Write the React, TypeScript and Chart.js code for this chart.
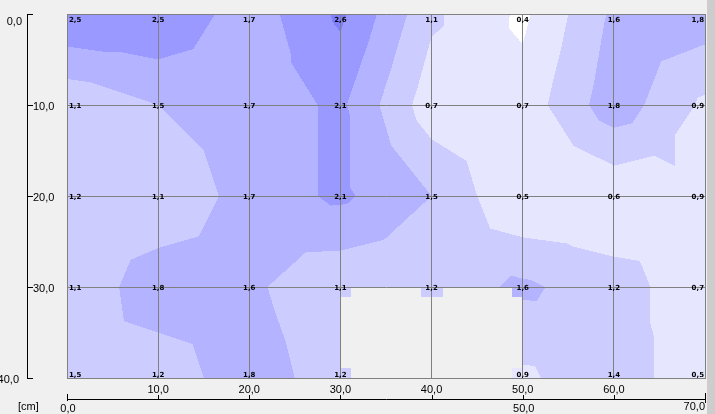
import React, { useEffect, useRef } from "react";
import { Chart, registerables } from "chart.js";

Chart.register(...registerables);

// ---- data ----
const xPositions = [0, 10, 20, 30, 40, 50, 60, 70];
const depths = [0, 10, 20, 30, 40];
const row0 = [2.5, 2.5, 1.7, 2.6, 1.1, 0.4, 1.6, 1.8];
const row10 = [1.1, 1.5, 1.7, 2.1, 0.7, 0.7, 1.8, 0.9];
const row20 = [1.2, 1.1, 1.7, 2.1, 1.5, 0.5, 0.6, 0.9];
const row30 = [1.1, 1.8, 1.6, 1.1, 1.2, 1.6, 1.2, 0.7];
const row40 = [1.5, 1.2, 1.8, 1.2, null, 0.9, 1.4, 0.5];
const levels = [0.5, 1.0, 1.5, 2.0, 2.5];
const bandColors = ["#FFFFFF", "#E6E6FF", "#CCCCFF", "#B3B3FF", "#9999FF", "#8080FF"];
const leftTickLabels = ["0,0", "10,0", "20,0", "30,0", "40,0"];
const bottomUpperLabels = [10, 20, 30, 40, 50, 60];
const bottomLowerLabels = [0, 50, 70];
const unitLabel = "[cm]";

const grid: (number | null)[][] = [row0, row10, row20, row30, row40];

const fmt = (v: number) => v.toFixed(1).replace(".", ",");

function bandOf(v: number) {
  let b = 0;
  for (const L of levels) if (v > L + 1e-9) b++;
  return b;
}

function hexToRgb(h: string) {
  return [parseInt(h.slice(1, 3), 16), parseInt(h.slice(3, 5), 16), parseInt(h.slice(5, 7), 16)];
}
const bandRgb = bandColors.map(hexToRgb);

function bary(px: number, py: number, x1: number, y1: number, f1: number, x2: number, y2: number, f2: number, x3: number, y3: number, f3: number) {
  const det = (y2 - y3) * (x1 - x3) + (x3 - x2) * (y1 - y3);
  const l1 = ((y2 - y3) * (px - x3) + (x3 - x2) * (py - y3)) / det;
  const l2 = ((y3 - y1) * (px - x3) + (x1 - x3) * (py - y3)) / det;
  const l3 = 1 - l1 - l2;
  return l1 * f1 + l2 * f2 + l3 * f3;
}

function interp(x: number, y: number): number | null {
  let c = 0;
  while (c < xPositions.length - 2 && x > xPositions[c + 1]) c++;
  let r = 0;
  while (r < depths.length - 2 && y > depths[r + 1]) r++;
  const a = grid[r][c], b = grid[r][c + 1], cc = grid[r + 1][c + 1], d = grid[r + 1][c];
  if (a == null || b == null || cc == null || d == null) return null;
  const u = (x - xPositions[c]) / (xPositions[c + 1] - xPositions[c]);
  const v = (y - depths[r]) / (depths[r + 1] - depths[r]);
  const m = (a + b + cc + d) / 4;
  if (v <= u && v <= 1 - u) return bary(u, v, 0, 0, a, 1, 0, b, 0.5, 0.5, m);
  if (u >= v && u >= 1 - v) return bary(u, v, 1, 0, b, 1, 1, cc, 0.5, 0.5, m);
  if (v >= u && v >= 1 - u) return bary(u, v, 1, 1, cc, 0, 1, d, 0.5, 0.5, m);
  return bary(u, v, 0, 1, d, 0, 0, a, 0.5, 0.5, m);
}

const contourPlugin = {
  id: "contour",
  beforeDatasetsDraw(chart: any) {
    const { ctx, chartArea } = chart;
    const xs = chart.scales.x, ys = chart.scales.y;
    const left = Math.round(chartArea.left), top = Math.round(chartArea.top);
    const w = Math.round(chartArea.right) - left, h = Math.round(chartArea.bottom) - top;
    ctx.save();
    ctx.beginPath();
    ctx.rect(left, top, w, h);
    ctx.clip();
    // point cells
    depths.forEach((dv, r) =>
      xPositions.forEach((xv, c) => {
        const v = grid[r][c];
        if (v == null) return;
        const px = Math.round(xs.getPixelForValue(xv));
        const py = Math.round(ys.getPixelForValue(dv));
        ctx.fillStyle = bandColors[bandOf(v)];
        ctx.fillRect(px - 11, py - 10, 22, 20);
      })
    );
    const img = ctx.createImageData(w, h);
    const data = img.data;
    const xv: number[] = [];
    for (let i = 0; i < w; i++) xv.push(xs.getValueForPixel(left + i + 0.5));
    for (let j = 0; j < h; j++) {
      const yv = ys.getValueForPixel(top + j + 0.5);
      for (let i = 0; i < w; i++) {
        const val = interp(xv[i], yv);
        if (val == null) continue;
        const rgb = bandRgb[bandOf(val)];
        const k = (j * w + i) * 4;
        data[k] = rgb[0];
        data[k + 1] = rgb[1];
        data[k + 2] = rgb[2];
        data[k + 3] = 255;
      }
    }
    const off = document.createElement("canvas");
    off.width = w;
    off.height = h;
    (off.getContext("2d") as CanvasRenderingContext2D).putImageData(img, 0, 0);
    ctx.drawImage(off, left, top);
    ctx.restore();
  },
  afterDraw(chart: any) {
    const { ctx, chartArea } = chart;
    const xs = chart.scales.x, ys = chart.scales.y;
    ctx.save();
    // value labels
    ctx.font = 'bold 7px "DejaVu Sans"';
    ctx.fillStyle = "#000";
    ctx.textAlign = "left";
    ctx.textBaseline = "alphabetic";
    depths.forEach((dv, r) =>
      xPositions.forEach((xv, c) => {
        const v = grid[r][c];
        if (v == null) return;
        const t = fmt(v);
        const tw = ctx.measureText(t).width;
        const px = xs.getPixelForValue(xv);
        const py = ys.getPixelForValue(dv);
        let x0 = px - tw / 2;
        if (x0 < chartArea.left + 2) x0 = chartArea.left + 2;
        if (x0 + tw > chartArea.right - 1) x0 = chartArea.right - 1 - tw;
        let by = py + 3;
        if (by < chartArea.top + 8) by = chartArea.top + 8;
        if (by > chartArea.bottom - 1) by = chartArea.bottom - 1;
        ctx.fillText(t, x0, by);
      })
    );

    // left axis
    ctx.strokeStyle = "#000";
    ctx.lineWidth = 1;
    const yTop = Math.round(ys.getPixelForValue(depths[0]));
    const yBot = Math.round(ys.getPixelForValue(depths[depths.length - 1]));
    ctx.beginPath();
    ctx.moveTo(27.5, yTop);
    ctx.lineTo(27.5, yBot + 1);
    depths.forEach((dv) => {
      const py = Math.round(ys.getPixelForValue(dv)) + 0.5;
      ctx.moveTo(27, py);
      ctx.lineTo(33, py);
    });
    ctx.stroke();

    ctx.font = '11px "Liberation Sans"';
    depths.forEach((dv, i) => {
      const py = Math.round(ys.getPixelForValue(dv));
      const label = leftTickLabels[i];
      if (i === 0) {
        ctx.textAlign = "right";
        ctx.fillText(label, 22, py + 11);
      } else if (i === depths.length - 1) {
        ctx.textAlign = "right";
        ctx.fillText(label, 19, py + 5);
      } else {
        ctx.textAlign = "left";
        ctx.fillText(label, 33, py + 5);
      }
    });

    // bottom axis
    const lineY = 399.5;
    const xStart = Math.round(xs.getPixelForValue(xPositions[0])) + 0.5;
    const xEnd = Math.round(xs.getPixelForValue(xPositions[xPositions.length - 1])) + 0.5;
    ctx.beginPath();
    ctx.moveTo(xStart, lineY);
    ctx.lineTo(xEnd + 0.5, lineY);
    xPositions.forEach((xv, i) => {
      const px = Math.round(xs.getPixelForValue(xv)) + 0.5;
      if (i === 0) {
        ctx.moveTo(px, 394);
        ctx.lineTo(px, 401);
      } else if (i === xPositions.length - 1) {
        ctx.moveTo(px, 393);
        ctx.lineTo(px, 403);
      } else {
        ctx.moveTo(px, 395);
        ctx.lineTo(px, 399);
      }
    });
    ctx.stroke();

    ctx.textAlign = "center";
    bottomUpperLabels.forEach((xv) => {
      const px = xs.getPixelForValue(xv);
      ctx.fillText(fmt(xv), px, 393);
    });
    bottomLowerLabels.forEach((xv, i) => {
      const px = xs.getPixelForValue(xv);
      if (i === bottomLowerLabels.length - 1) {
        ctx.textAlign = "right";
        ctx.fillText(fmt(xv), px, 410);
      } else {
        ctx.textAlign = "center";
        ctx.fillText(fmt(xv), px + 1, 412);
      }
    });
    ctx.textAlign = "left";
    ctx.fillText(unitLabel, 18, 410);
    ctx.restore();
  },
};

export default function App() {
  const ref = useRef<HTMLCanvasElement>(null);
  useEffect(() => {
    document.body.style.margin = "0";
    const pts: { x: number; y: number }[] = [];
    depths.forEach((dv, r) =>
      xPositions.forEach((xv, c) => {
        if (grid[r][c] != null) pts.push({ x: xv, y: dv });
      })
    );
    const chart = new Chart(ref.current as HTMLCanvasElement, {
      type: "scatter",
      data: {
        datasets: [{ data: pts, pointRadius: 0, pointHoverRadius: 0, showLine: false }],
      },
      options: {
        animation: false,
        responsive: true,
        maintainAspectRatio: false,
        events: [],
        layout: { padding: { left: 67, top: 14, right: 10, bottom: 36 } },
        plugins: { legend: { display: false }, tooltip: { enabled: false } },
        scales: {
          x: {
            type: "linear",
            min: 0,
            max: 70,
            ticks: { stepSize: 10, display: false },
            grid: { color: "#808080", drawTicks: false, z: 1 } as any,
            border: { color: "#808080", z: 1 } as any,
          },
          y: {
            type: "linear",
            reverse: true,
            min: 0,
            max: 40,
            ticks: { stepSize: 10, display: false },
            grid: { color: "#808080", drawTicks: false, z: 1 } as any,
            border: { color: "#808080", z: 1 } as any,
          },
        },
      },
      plugins: [contourPlugin],
    });
    return () => chart.destroy();
  }, []);
  return (
    <div style={{ position: "fixed", left: 0, top: 0, width: 715, height: 414, background: "#f0f0f0", overflow: "hidden" }}>
      <div style={{ position: "absolute", left: 0, top: 0, width: 715, height: 414 }}>
        <canvas ref={ref} />
      </div>
      <div style={{ position: "absolute", left: 707, top: 0, width: 8, height: 414, background: "#cdcdcd" }} />
    </div>
  );
}
